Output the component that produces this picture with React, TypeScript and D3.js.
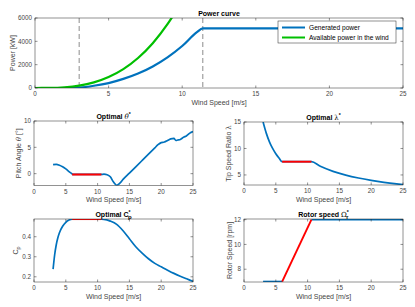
import React from 'react';
import * as d3 from 'd3';

// wind speeds shared by every panel
const windTicks = [0, 5, 10, 15, 20, 25];
const cutIn = 3;
const rated = 11.4;
const optRegion = [6, 10.6];

// power curve
const genWind = [0, 1, 2, 3, 4, 5, 6, 7, 8, 9, 10, 11, 11.4, 12, 15, 20, 25];
const genPower = [0, 0, 0, 40, 190, 420, 780, 1240, 1850, 2630, 3600, 4790, 5110, 5110, 5110, 5110, 5110];
const availWind = [0, 1, 2, 3, 4, 5, 6, 7, 8, 9, 9.5];
const availPower = [0, 8, 60, 200, 480, 940, 1620, 2570, 3840, 5470, 6430];
const powerTicks = [0, 2000, 4000, 6000];

// optimal pitch
const pitchWind = [3, 3.5, 4, 4.5, 5, 5.5, 6, 6.1, 10.6, 11, 11.5, 12, 12.5, 13, 13.5, 14, 15, 16, 17, 18, 19,
  19.5, 20, 20.5, 21, 21.5, 22, 22.3, 22.6, 23, 23.5, 24, 24.5, 25];
const pitch = [1.7, 1.75, 1.6, 1.3, 0.9, 0.4, -0.05, -0.15, -0.15, -0.1, -0.2, -0.6, -1.6, -2.2, -1.8, -1.1, 0.1, 1.3, 2.5, 3.7, 4.9,
  5.5, 5.9, 6.0, 6.3, 6.6, 6.7, 6.3, 6.4, 6.5, 6.9, 7.2, 7.7, 8.0];
const pitchOpt = [-0.15, -0.15];
const pitchTicks = [0, 5, 10];

// optimal tip speed ratio
const lambdaWind = [3, 3.5, 4, 4.5, 5, 5.5, 6, 10.6, 12, 14, 16, 18, 20, 22, 24, 25];
const lambda = [15, 12.9, 11.25, 10, 9, 8.2, 7.5, 7.5, 6.63, 5.68, 4.97, 4.42, 3.98, 3.61, 3.31, 3.18];
const lambdaOpt = [7.5, 7.5];
const lambdaTicks = [5, 10, 15];

// optimal Cp
const cpWind = [3, 3.25, 3.5, 3.75, 4, 4.5, 5, 5.5, 6, 10.6, 11, 12, 13, 14, 15, 16, 17, 18, 19, 20, 21, 22, 23, 24, 25];
const cp = [0.238, 0.31, 0.36, 0.395, 0.42, 0.452, 0.472, 0.483, 0.488, 0.488, 0.487, 0.478, 0.462, 0.43, 0.39, 0.35,
  0.318, 0.29, 0.267, 0.25, 0.233, 0.217, 0.203, 0.19, 0.177];
const cpOpt = [0.488, 0.488];
const cpTicks = [0.2, 0.3, 0.4];

// rotor speed
const rotorLowWind = [3, 6];
const rotorLow = [7, 7];
const rotorHighWind = [10.6, 25];
const rotorHigh = [12, 12];
const rotorOpt = [7, 12];
const rotorTicks = [8, 10, 12];

const BLUE = '#0072BD';
const GREEN = '#00BF00';
const RED = '#FF0000';
const AX = '#262626';
const TXT = '#454545';
const FONT = '"Liberation Sans", Arial, Helvetica, sans-serif';

type Series = { x: number[]; y: number[]; color: string; width: number; dash?: string };

const Panel = (props: {
  id: string; left: number; right: number; top: number; bottom: number;
  yDomain: [number, number]; yTicks: number[]; yFormat?: (d: number) => string;
  series: Series[]; title: React.ReactNode; ylabel: React.ReactNode; ylabelX: number;
  vlines?: number[]; children?: React.ReactNode;
}) => {
  const { id, left, right, top, bottom, yDomain, yTicks, series } = props;
  const x = d3.scaleLinear().domain([0, 25]).range([left, right]);
  const y = d3.scaleLinear().domain(yDomain).range([bottom, top]);
  const fmt = props.yFormat || ((d: number) => String(d));
  const tl = 2.5;
  return (
    <g>
      <defs>
        <clipPath id={id}>
          <rect x={left} y={top} width={right - left} height={bottom - top} />
        </clipPath>
      </defs>
      <rect x={left} y={top} width={right - left} height={bottom - top} fill="#fff" />
      <g clipPath={`url(#${id})`}>
        {(props.vlines || []).map(v => (
          <line key={v} x1={x(v)} x2={x(v)} y1={top} y2={bottom} stroke="#6e6e6e" strokeWidth={0.8} strokeDasharray="5,3" />
        ))}
        {series.map((s, i) => {
          const pts: [number, number][] = s.x.map((v, j) => [v, s.y[j]]);
          const line = d3.line<[number, number]>()
            .x(d => x(d[0])).y(d => y(d[1]))
            .curve(d3.curveMonotoneX);
          return <path key={i} d={line(pts) || ''} fill="none" stroke={s.color} strokeWidth={s.width}
            strokeLinejoin="round" strokeLinecap="butt" strokeDasharray={s.dash} />;
        })}
      </g>
      <rect x={left} y={top} width={right - left} height={bottom - top} fill="none" stroke={AX} strokeWidth={0.5} />
      {windTicks.map(t => (
        <g key={'x' + t}>
          <line x1={x(t)} x2={x(t)} y1={bottom} y2={bottom - tl} stroke={AX} strokeWidth={0.5} />
          <line x1={x(t)} x2={x(t)} y1={top} y2={top + tl} stroke={AX} strokeWidth={0.5} />
          <text x={x(t)} y={bottom + 8.3} textAnchor="middle" fontSize={6.3} fill={TXT}>{t}</text>
        </g>
      ))}
      {yTicks.map(t => (
        <g key={'y' + t}>
          <line x1={left} x2={left + tl} y1={y(t)} y2={y(t)} stroke={AX} strokeWidth={0.5} />
          <line x1={right} x2={right - tl} y1={y(t)} y2={y(t)} stroke={AX} strokeWidth={0.5} />
          <text x={left - 3} y={y(t) + 2.2} textAnchor="end" fontSize={6.3} fill={TXT}>{fmt(t)}</text>
        </g>
      ))}
      <text x={(left + right) / 2} y={bottom + 16.5} textAnchor="middle" fontSize={7} fill={TXT}>Wind Speed [m/s]</text>
      <text transform={`translate(${props.ylabelX},${(top + bottom) / 2}) rotate(-90)`} textAnchor="middle" fontSize={7} fill={TXT}>
        {props.ylabel}
      </text>
      <text x={(left + right) / 2} y={top - 2.5} textAnchor="middle" fontSize={7} fontWeight="bold" fill="#000">
        {props.title}
      </text>
      {props.children}
    </g>
  );
};

const App = () => {
  const greek = { fontFamily: '"DejaVu Serif", serif', fontWeight: 'normal' as const };
  return (
    <svg width={415} height={307} style={{ position: 'absolute', left: 0, top: 0, background: '#fff' }} fontFamily={FONT}>
      <Panel id="cp0" left={35} right={403} top={18} bottom={88} yDomain={[0, 6000]} yTicks={powerTicks}
        series={[
          { x: genWind, y: genPower, color: BLUE, width: 2.2 },
          { x: availWind, y: availPower, color: GREEN, width: 2.2 },
        ]}
        vlines={[cutIn, rated]}
        title="Power curve" ylabel="Power [kW]" ylabelX={15}>
        <g>
          <rect x={278} y={21} width={118} height={22} fill="#fff" stroke={AX} strokeWidth={0.5} />
          <line x1={282} x2={305} y1={27.5} y2={27.5} stroke={BLUE} strokeWidth={2} />
          <text x={309} y={29.8} fontSize={6.6} fill="#000">Generated power</text>
          <line x1={282} x2={305} y1={37.5} y2={37.5} stroke={GREEN} strokeWidth={2} />
          <text x={309} y={39.8} fontSize={6.6} fill="#000">Available power in the wind</text>
        </g>
      </Panel>
      <Panel id="cp1" left={34} right={193} top={121} bottom={185.5} yDomain={[-2.25, 10]} yTicks={pitchTicks}
        series={[
          { x: pitchWind, y: pitch, color: BLUE, width: 1.7 },
          { x: optRegion, y: pitchOpt, color: RED, width: 1.9 },
        ]}
        title={<>Optimal <tspan {...greek} fontStyle="italic">θ</tspan><tspan fontSize={5} dy={-3}>*</tspan></>}
        ylabel={<>Pitch Angle <tspan fontStyle="italic" fontFamily='"DejaVu Serif", serif'>θ</tspan> [°]</>} ylabelX={21} />
      <Panel id="cp2" left={244} right={403} top={122} bottom={185} yDomain={[3.1, 15]} yTicks={lambdaTicks}
        series={[
          { x: lambdaWind, y: lambda, color: BLUE, width: 1.7 },
          { x: optRegion, y: lambdaOpt, color: RED, width: 1.9 },
        ]}
        title={<>Optimal <tspan {...greek}>λ</tspan><tspan fontSize={5} dy={-3}>*</tspan></>}
        ylabel={<>Tip Speed Ratio <tspan fontFamily='"DejaVu Serif", serif'>λ</tspan></>} ylabelX={231} />
      <Panel id="cp3" left={34} right={193} top={219} bottom={282} yDomain={[0.174, 0.4885]} yTicks={cpTicks}
        yFormat={d3.format('.1f')}
        series={[
          { x: cpWind, y: cp, color: BLUE, width: 1.7 },
          { x: optRegion, y: cpOpt, color: RED, width: 1.9 },
        ]}
        title={<>Optimal C<tspan fontSize={5} dy={-3}>*</tspan><tspan fontSize={6} dy={5} dx={-2.5}>p</tspan></>}
        ylabel={<>C<tspan fontSize={5.5} dy={2}>p</tspan></>} ylabelX={18} />
      <Panel id="cp4" left={244} right={403} top={219} bottom={282} yDomain={[6.97, 12.05]} yTicks={rotorTicks}
        series={[
          { x: rotorLowWind, y: rotorLow, color: BLUE, width: 1.9 },
          { x: rotorHighWind, y: rotorHigh, color: BLUE, width: 1.9 },
          { x: optRegion, y: rotorOpt, color: RED, width: 1.9 },
        ]}
        title={<>Rotor speed <tspan {...greek}>Ω</tspan><tspan fontSize={5} dy={-3}>*</tspan><tspan fontSize={5.5} dy={5} dx={-2.5}>r</tspan></>}
        ylabel="Rotor Speed [rpm]" ylabelX={232} />
    </svg>
  );
};

export default App;
